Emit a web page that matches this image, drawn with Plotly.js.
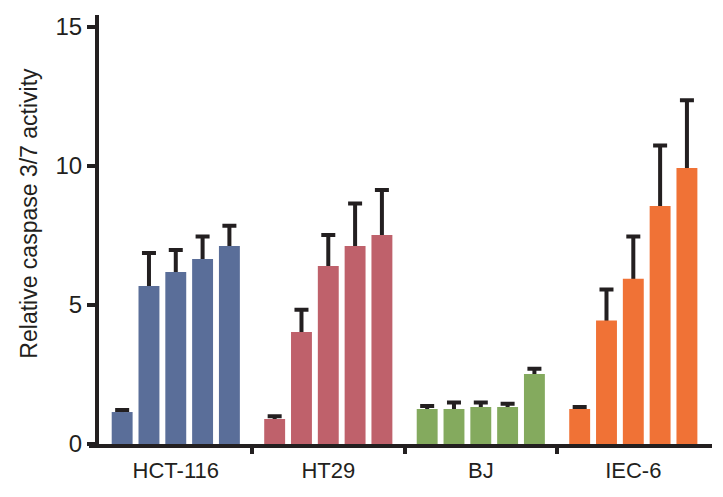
<!DOCTYPE html>
<html>
<head>
<meta charset="utf-8">
<script src="https://cdn.plot.ly/plotly-3.0.1.min.js"></script>
<style>
  html, body { margin: 0; padding: 0; background: #fff; }
  #chart { width: 723px; height: 497px; }
</style>
</head>
<body>
<div id="chart"></div>
<script>
// cell lines on the x axis
const cell_lines = ["HCT-116", "HT29", "BJ", "IEC-6"];
const cell_colors = ["#5a6e99", "#bf616b", "#84aa5e", "#f07236"];

// bar heights, 5 treatments per cell line
const hct116 = [1.15, 5.68, 6.19, 6.65, 7.12];
const ht29   = [0.90, 4.03, 6.40, 7.12, 7.52];
const bj     = [1.26, 1.26, 1.33, 1.33, 2.52];
const iec6   = [1.26, 4.44, 5.94, 8.56, 9.93];

// upper error (SD)
const hct116_err = [0.07, 1.19, 0.79, 0.81, 0.73];
const ht29_err   = [0.10, 0.80, 1.12, 1.53, 1.62];
const bj_err     = [0.11, 0.23, 0.16, 0.12, 0.19];
const iec6_err   = [0.07, 1.12, 1.52, 2.18, 2.43];

const y_ticks = [0, 5, 10, 15];
const ink = "#231f20";

let values = [hct116, ht29, bj, iec6];
let errors = [hct116_err, ht29_err, bj_err, iec6_err];

let err_traces = [];
let bar_traces = [];
for (let i = 0; i < 5; i++) {
  let ys = values.map(v => v[i]);
  // error bars first, on see-through bars; the lower cap ends up
  // inside the real bar drawn over it, so only the upper half shows
  err_traces.push({
    type: "bar",
    x: cell_lines,
    y: ys,
    offsetgroup: String(i),
    marker: { color: "rgba(0,0,0,0)", line: { width: 0 } },
    error_y: {
      type: "data",
      symmetric: false,
      array: errors.map(e => e[i]),
      arrayminus: ys.map(() => 0.5),
      visible: true,
      color: ink,
      thickness: 4,
      width: 7
    },
    showlegend: false,
    hoverinfo: "skip"
  });
  bar_traces.push({
    type: "bar",
    x: cell_lines,
    y: ys,
    offsetgroup: String(i),
    marker: { color: cell_colors, line: { width: 0 } },
    showlegend: false,
    hoverinfo: "skip"
  });
}
let data = err_traces.concat(bar_traces);
// carrier for the group divider ticks
data.push({ type: "scatter", x: [], y: [], xaxis: "x2", yaxis: "y", showlegend: false, hoverinfo: "skip" });

const x_range = [-0.569, 3.516];

let layout = {
  width: 723,
  height: 497,
  margin: { l: 89, r: 11, t: 15, b: 53, pad: 0 },
  paper_bgcolor: "#ffffff",
  plot_bgcolor: "#ffffff",
  barmode: "group",
  bargap: 0.121,
  bargroupgap: 0.22,
  showlegend: false,
  font: { family: "Liberation Sans, Arial, sans-serif", color: ink },
  xaxis: {
    type: "category",
    domain: [0, 1],
    range: x_range,
    showline: true,
    linewidth: 4,
    linecolor: ink,
    ticks: "",
    ticklabelstandoff: 4,
    showgrid: false,
    zeroline: false,
    tickfont: { size: 22, color: ink, family: "Liberation Sans, Arial, sans-serif" }
  },
  xaxis2: {
    type: "linear",
    overlaying: "x",
    anchor: "y",
    side: "bottom",
    range: x_range,
    tickmode: "array",
    tickvals: [0.5, 1.5, 2.5],
    ticks: "outside",
    ticklen: 9,
    tickwidth: 4,
    tickcolor: ink,
    showticklabels: false,
    showline: false,
    showgrid: false,
    zeroline: false
  },
  yaxis: {
    range: [0, 15.43],
    anchor: "free",
    position: 8 / 623,
    tickmode: "array",
    tickvals: y_ticks,
    ticktext: y_ticks.map(String),
    ticks: "outside",
    ticklen: 8,
    tickwidth: 4,
    tickcolor: ink,
    showline: true,
    linewidth: 4,
    linecolor: ink,
    showgrid: false,
    zeroline: false,
    tickfont: { size: 24, color: ink, family: "Liberation Sans Narrow, Arial Narrow, Liberation Sans, sans-serif" }
  },
  annotations: [{
    text: "Relative caspase 3/7 activity",
    xref: "paper", yref: "paper",
    x: -0.0963, y: 0.537,
    xanchor: "center", yanchor: "middle",
    textangle: -90,
    showarrow: false,
    font: { size: 23, color: ink, family: "Liberation Sans, Arial, sans-serif" }
  }]
};

Plotly.newPlot("chart", data, layout, { staticPlot: true, displayModeBar: false });
</script>
</body>
</html>
